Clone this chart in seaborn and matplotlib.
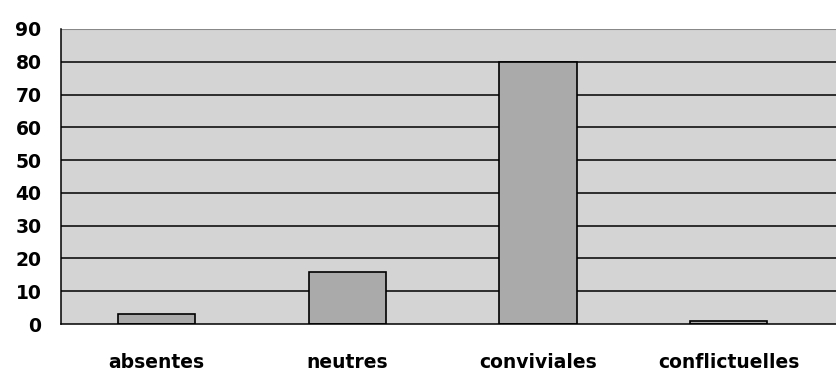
import matplotlib as mpl
mpl.use('Agg')
import matplotlib.pyplot as plt
import seaborn as sns
import pandas as pd

categories = ['absentes', 'neutres', 'conviviales', 'conflictuelles']
values = [3, 16, 80, 1]
y_ticks = [0, 10, 20, 30, 40, 50, 60, 70, 80, 90]

df = pd.DataFrame({'cat': categories, 'val': values})

sns.set_style('white')
plt.rcParams['font.family'] = ['DejaVu Sans']
plt.rcParams['text.color'] = 'black'
plt.rcParams['xtick.color'] = 'black'
plt.rcParams['ytick.color'] = 'black'

fig = plt.figure(figsize=(8.37, 3.71), dpi=100)
ax = fig.add_axes([61 / 837, 47 / 371, 776 / 837, 295 / 371])
ax.set_facecolor('#d4d4d4')

sns.barplot(data=df, x='cat', y='val', ax=ax, color='#aaaaaa', saturation=1,
            width=0.405, edgecolor='black', linewidth=1.2)

ax.set_ylim(0, 90)
ax.set_xlim(-0.5, 3.5 + 13 / 191)
ax.set_yticks(y_ticks)
for y in y_ticks[1:-1]:
    ax.axhline(y, color='black', linewidth=1.1, zorder=0.5)

for side in ['top', 'right']:
    ax.spines[side].set_visible(False)
ax.axhline(90, color='#888888', linewidth=1.5, zorder=0.5)
ax.spines['left'].set_color('black')
ax.spines['bottom'].set_color('black')
ax.spines['left'].set_linewidth(1.1)
ax.spines['bottom'].set_linewidth(1.1)

ax.set_xticks(range(len(categories)))
ax.set_xticklabels(categories, fontsize=13.5, fontweight='bold', color='black')
ax.set_xticks([-0.5, 0.5, 1.5, 2.5, 3.5], minor=True)
ax.tick_params(axis='x', which='major', length=0, pad=21, labelcolor='black')
ax.tick_params(axis='x', which='minor', length=6, width=1.1, color='black', direction='out')
ax.tick_params(axis='y', length=6, width=1.1, color='black', direction='out', pad=8,
               labelsize=13.5, labelcolor='black')
for lbl in ax.get_yticklabels():
    lbl.set_fontweight('bold')

ax.set_xlabel('')
ax.set_ylabel('')

fig.savefig('out.png', dpi=100)
